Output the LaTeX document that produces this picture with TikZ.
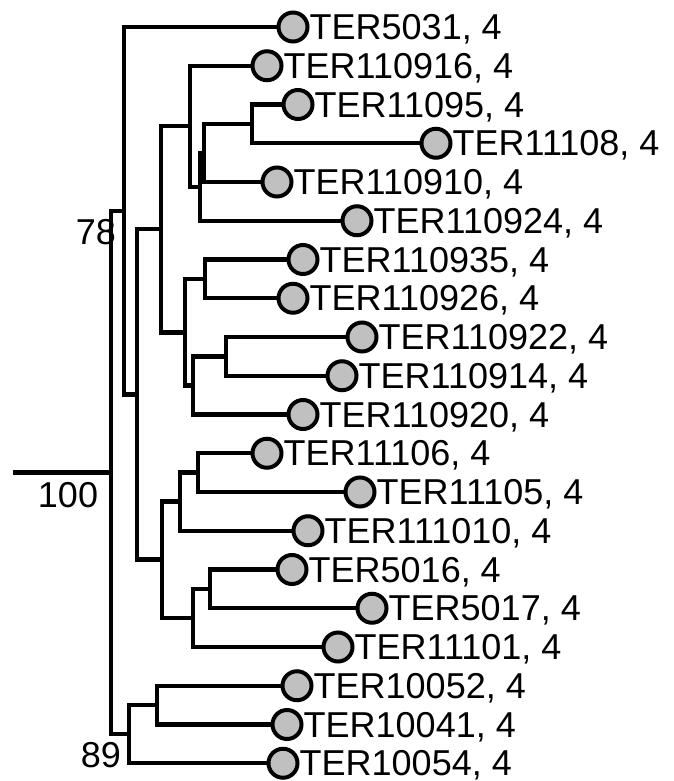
\documentclass[tikz,border=0pt]{standalone}
\usepackage{fontspec}
\setmainfont{Liberation Sans}
\definecolor{tipgray}{RGB}{192,192,192}

\begin{document}
\begin{tikzpicture}[x=1pt,y=-1pt,
  tip/.style={shape=circle,draw=black,fill=tipgray,line width=4pt,minimum size=29pt,inner sep=0pt,label distance=7pt},
  every label/.style={inner sep=0pt,text depth=0pt,font=\fontsize{36pt}{40pt}\selectfont},
  support/.style={inner sep=0pt,text depth=0pt,font=\fontsize{36pt}{40pt}\selectfont},
  branch/.style={line width=4.2pt,line join=miter}]
 \useasboundingbox (0,0) rectangle (674,781);
 % leaves
 \node (tip 1) at (293,27) [tip,label={0:{TER5031, 4}}] {};
 \node (tip 2) at (267,65.75) [tip,label={0:{TER110916, 4}}] {};
 \node (tip 3) at (298,104.5) [tip,label={0:{TER11095, 4}}] {};
 \node (tip 4) at (436,143.25) [tip,label={0:{TER11108, 4}}] {};
 \node (tip 5) at (277,182) [tip,label={0:{TER110910, 4}}] {};
 \node (tip 6) at (357,220.75) [tip,label={0:{TER110924, 4}}] {};
 \node (tip 7) at (303,259.5) [tip,label={0:{TER110935, 4}}] {};
 \node (tip 8) at (293,298.25) [tip,label={0:{TER110926, 4}}] {};
 \node (tip 9) at (362,337) [tip,label={0:{TER110922, 4}}] {};
 \node (tip 10) at (342,375.75) [tip,label={0:{TER110914, 4}}] {};
 \node (tip 11) at (303,414.5) [tip,label={0:{TER110920, 4}}] {};
 \node (tip 12) at (267,453.25) [tip,label={0:{TER11106, 4}}] {};
 \node (tip 13) at (360,492) [tip,label={0:{TER11105, 4}}] {};
 \node (tip 14) at (308,530.75) [tip,label={0:{TER111010, 4}}] {};
 \node (tip 15) at (292,569.5) [tip,label={0:{TER5016, 4}}] {};
 \node (tip 16) at (372,608.25) [tip,label={0:{TER5017, 4}}] {};
 \node (tip 17) at (338,647) [tip,label={0:{TER11101, 4}}] {};
 \node (tip 18) at (297,685.75) [tip,label={0:{TER10052, 4}}] {};
 \node (tip 19) at (287,724.5) [tip,label={0:{TER10041, 4}}] {};
 \node (tip 20) at (283,763.25) [tip,label={0:{TER10054, 4}}] {};
 % internal nodes
 \coordinate (stem) at (13,472.5);
 \coordinate (root) at (111,472.5);
 \coordinate (anc 1) at (124,211);
 \coordinate (anc 2) at (137,394.5);
 \coordinate (anc 3) at (161,229);
 \coordinate (anc 4) at (190,126);
 \coordinate (anc 5) at (200,187);
 \coordinate (anc 6) at (204,153);
 \coordinate (anc 7) at (252,124);
 \coordinate (anc 8) at (185,332.5);
 \coordinate (anc 9) at (205,279);
 \coordinate (anc 10) at (193,385.5);
 \coordinate (anc 11) at (226,356.5);
 \coordinate (anc 12) at (162,559.5);
 \coordinate (anc 13) at (180,501.5);
 \coordinate (anc 14) at (198,472.5);
 \coordinate (anc 15) at (193,618);
 \coordinate (anc 16) at (210,589);
 \coordinate (anc 17) at (129,734);
 \coordinate (anc 18) at (157,705);
 % support values
 \node (bs 78) at (96,232) [support] {78};
 \node (bs 100) at (68,494.5) [support] {100};
 \node (bs 89) at (101,755) [support] {89};
 % branches
 \draw[branch] (stem) -- (root);
 \draw[branch] (root) |- (anc 1);
 \draw[branch] (root) |- (anc 17);
 \draw[branch] (anc 1) |- (tip 1);
 \draw[branch] (anc 1) |- (anc 2);
 \draw[branch] (anc 2) |- (anc 3);
 \draw[branch] (anc 2) |- (anc 12);
 \draw[branch] (anc 3) |- (anc 4);
 \draw[branch] (anc 3) |- (anc 8);
 \draw[branch] (anc 4) |- (tip 2);
 \draw[branch] (anc 4) |- (anc 5);
 \draw[branch] (anc 5) |- (anc 6);
 \draw[branch] (anc 5) |- (tip 6);
 \draw[branch] (anc 6) |- (anc 7);
 \draw[branch] (anc 6) |- (tip 5);
 \draw[branch] (anc 7) |- (tip 3);
 \draw[branch] (anc 7) |- (tip 4);
 \draw[branch] (anc 8) |- (anc 9);
 \draw[branch] (anc 8) |- (anc 10);
 \draw[branch] (anc 9) |- (tip 7);
 \draw[branch] (anc 9) |- (tip 8);
 \draw[branch] (anc 10) |- (anc 11);
 \draw[branch] (anc 10) |- (tip 11);
 \draw[branch] (anc 11) |- (tip 9);
 \draw[branch] (anc 11) |- (tip 10);
 \draw[branch] (anc 12) |- (anc 13);
 \draw[branch] (anc 12) |- (anc 15);
 \draw[branch] (anc 13) |- (anc 14);
 \draw[branch] (anc 13) |- (tip 14);
 \draw[branch] (anc 14) |- (tip 12);
 \draw[branch] (anc 14) |- (tip 13);
 \draw[branch] (anc 15) |- (anc 16);
 \draw[branch] (anc 15) |- (tip 17);
 \draw[branch] (anc 16) |- (tip 15);
 \draw[branch] (anc 16) |- (tip 16);
 \draw[branch] (anc 17) |- (anc 18);
 \draw[branch] (anc 17) |- (tip 20);
 \draw[branch] (anc 18) |- (tip 18);
 \draw[branch] (anc 18) |- (tip 19);
\end{tikzpicture}
\end{document}
